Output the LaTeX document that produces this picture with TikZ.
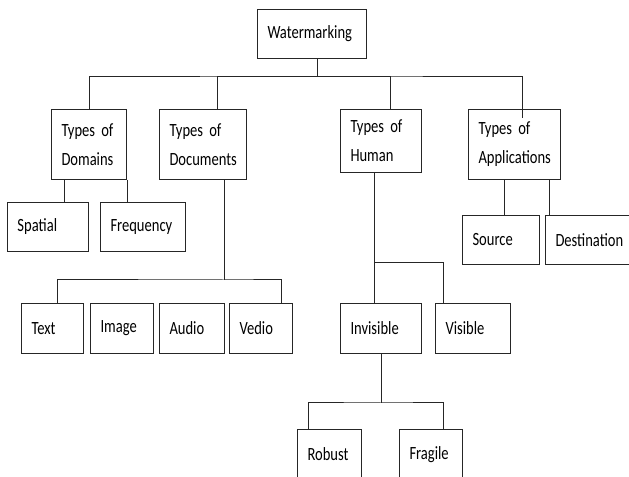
\documentclass[tikz,border=0pt]{standalone}
\usepackage{fontspec}
\setmainfont{Carlito}[FakeStretch=0.78, WordSpace=0.78]
\usepackage{tikz}
\usetikzlibrary{calc}
\tikzset{
    normal/.style={draw=black!85, line width=0.75pt},
    box/.style 2 args={style=normal, anchor=north west, align=left, inner xsep=7.5pt, inner ysep=0pt,
        minimum width=#1*0.75pt, minimum height=#2*0.75pt, text width=(#1-20)*0.75pt,
        font=\fontsize{14}{21.75}\selectfont}, % boxes, sizes in px
    te/.style={style=normal} % edges in the tree
}

\begin{document}
\begin{tikzpicture}[x=0.75pt, y=-0.75pt]
        \useasboundingbox (0,0) rectangle (629,477);
        \clip (0,0) rectangle (629,477);

        \node[box={109}{49}] (wm) at (257,9) {Watermarking};

        \node[box={75}{70}] (dom) at (51,109) {Types of\\Domains};
        \node[box={87}{70}] (doc) at (159,109) {Types of\\Documents};
        \node[box={81}{63}] (hum) at (340,109) {Types of\\Human};
        \node[box={92}{70}] (app) at (468,109) {Types of\\Applications};

        \node[box={81}{49}] (spa) at (7,202) {Spatial};
        \node[box={85}{49}] (fre) at (100,202) {Frequency};

        \node[box={62}{50}] (txt) at (21,303) {Text};
        \node[box={63}{50}] (img) at (90,303) {Image};
        \node[box={65}{50}] (aud) at (159,303) {Audio};
        \node[box={63}{50}] (ved) at (229,303) {Vedio};

        \node[box={81}{50}] (inv) at (340,303) {Invisible};
        \node[box={75}{50}] (vis) at (435,303) {Visible};
        \node[box={64}{50}] (rob) at (297,429) {Robust};
        \node[box={63}{50}] (fra) at (399,429) {Fragile};

        \node[box={77}{49}] (src) at (462,215) {Source};
        \node[box={90}{49}] (dst) at (545,215) {Destination};

        % root
        \coordinate (r) at (317,77);
        \draw[te] (wm.south -| r) -- (r);
        \draw[te] (dom.north) |- (r) -| ($(app.north)+(8,9)$);
        \draw[te] ($(doc.north)+(14,0)$) |- (r);
        \draw[te] ($(hum.north)+(9,0)$) |- (r);

        % domains
        \coordinate (d1) at ($(dom.south west)+(13,0)$);
        \draw[te] (d1) -- (d1 |- spa.north);
        \draw[te] (dom.south east) -- (dom.south east |- fre.north);

        % documents
        \coordinate (c) at (224,280);
        \draw[te] (doc.south -| c) -- (c);
        \draw[te] ($(txt.north)+(5,0)$) |- (c) -| ($(ved.north)+(20,0)$);

        % human
        \coordinate (h) at (374,263);
        \draw[te] (hum.south -| h) -- (h |- inv.north);
        \draw[te] (h) -| ($(vis.north)+(-29.5,0)$);

        % invisible
        \coordinate (i) at ($(inv.south)+(0,49)$);
        \draw[te] (inv.south) -- (i);
        \draw[te] ($(rob.north)+(-21,0)$) |- (i) -| ($(fra.north)+(12.5,0)$);

        % applications
        \coordinate (a1) at ($(app.south)+(-10,0)$);
        \draw[te] (a1) -- (a1 |- src.north);
        \coordinate (a2) at ($(app.south)+(35,0)$);
        \draw[te] (a2) -- (a2 |- dst.north);
      \end{tikzpicture}
\end{document}
